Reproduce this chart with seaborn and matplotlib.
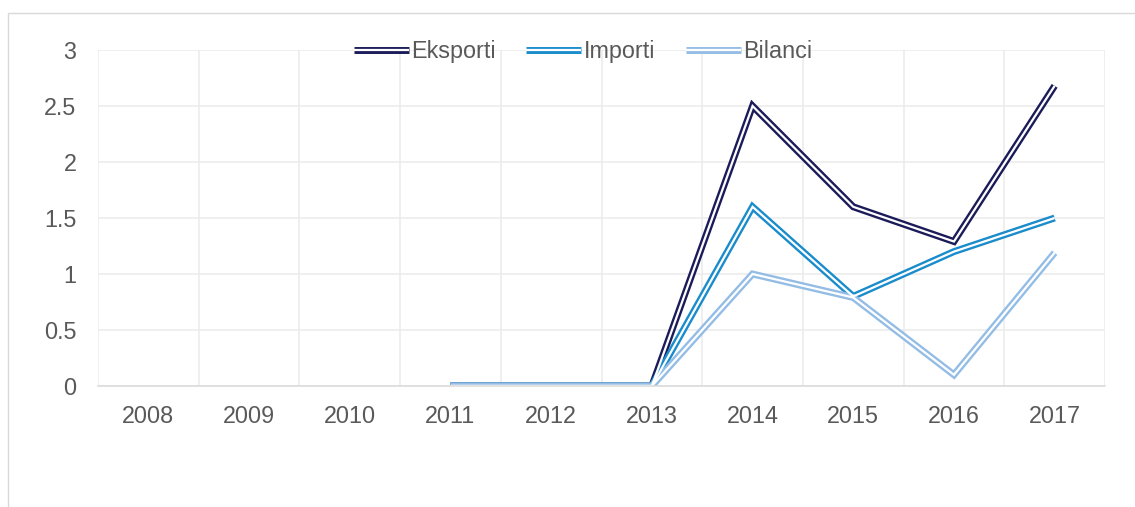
import numpy as np
import pandas as pd
import matplotlib
matplotlib.use("Agg")
import matplotlib.pyplot as plt
from matplotlib.lines import Line2D
from matplotlib.patches import Rectangle
import seaborn as sns

# data
years = ["2008", "2009", "2010", "2011", "2012", "2013", "2014", "2015", "2016", "2017"]
eksporti = [np.nan, np.nan, np.nan, 0, 0, 0, 2.5, 1.6, 1.29, 2.68]
importi = [np.nan, np.nan, np.nan, 0, 0, 0, 1.6, 0.8, 1.2, 1.5]
bilanci = [np.nan, np.nan, np.nan, 0, 0, 0, 1.0, 0.79, 0.1, 1.19]

series_names = ["Eksporti", "Importi", "Bilanci"]
colors = ["#1b1b5a", "#1a8ccc", "#94bde6"]

df = pd.DataFrame({"pos": range(len(years)), "Eksporti": eksporti,
                   "Importi": importi, "Bilanci": bilanci})
long_df = df.melt(id_vars="pos", var_name="serie", value_name="vlera")

sns.set_style("white")
plt.rcParams["font.family"] = ["Liberation Sans", "DejaVu Sans"]

outer_lw = 5.0
inner_lw = 1.6
fs = 16.8

fig = plt.figure(figsize=(11.35, 5.07), dpi=100)
ax = fig.add_axes([98 / 1135, 1 - 386 / 507, (1105 - 98) / 1135, (386 - 50) / 507])

# double (compound) lines: thick coloured line with a thin white core
line_kw = dict(solid_capstyle="butt", solid_joinstyle="miter")
sns.lineplot(data=long_df, x="pos", y="vlera", hue="serie", hue_order=series_names,
             palette=colors, linewidth=outer_lw, ax=ax, legend=False, **line_kw)
sns.lineplot(data=long_df, x="pos", y="vlera", hue="serie", hue_order=series_names,
             palette=["white"] * 3, linewidth=inner_lw, ax=ax, legend=False, **line_kw)

# axes formatting
ax.set_xlim(-0.5, len(years) - 0.5)
ax.set_ylim(0, 3)
ax.set_xticks(range(len(years)))
ax.set_xticklabels(years)
ax.set_xticks(np.arange(-0.5, len(years), 1), minor=True)
ax.set_yticks(np.arange(0, 3.01, 0.5))
ax.set_yticklabels(["0", "0.5", "1", "1.5", "2", "2.5", "3"])
ax.set_xlabel("")
ax.set_ylabel("")
ax.grid(False)
ax.grid(True, axis="y", which="major", color="#ebebeb", linewidth=1.1)
ax.grid(True, axis="x", which="minor", color="#ebebeb", linewidth=1.1)
ax.set_axisbelow(True)
for side in ["top", "right", "left"]:
    ax.spines[side].set_visible(False)
ax.spines["bottom"].set_color("#d9d9d9")
ax.spines["bottom"].set_linewidth(1.1)
ax.tick_params(axis="both", which="both", length=0, labelsize=fs, colors="#595959")
ax.tick_params(axis="x", pad=14)
ax.tick_params(axis="y", pad=15.5)

# legend with double-line handles
handles = [(Line2D([], [], color=c, linewidth=outer_lw, solid_capstyle="butt"),
            Line2D([], [], color="white", linewidth=inner_lw, solid_capstyle="butt"))
           for c in colors]
leg = fig.legend(handles, series_names, loc="center", bbox_to_anchor=(583 / 1135, 1 - 51.5 / 507),
                 ncol=3, frameon=False, fontsize=fs, handlelength=2.36, handletextpad=0.1,
                 columnspacing=1.3, borderpad=0)
for t in leg.get_texts():
    t.set_color("#595959")

# chart frame like the source image
fig.patches.append(Rectangle((8 / 1135, -0.1), 1.2, 1 - 13 / 507 + 0.1, transform=fig.transFigure,
                             fill=False, edgecolor="#d9d9d9", linewidth=1.0))

fig.savefig("out.png", dpi=100)
